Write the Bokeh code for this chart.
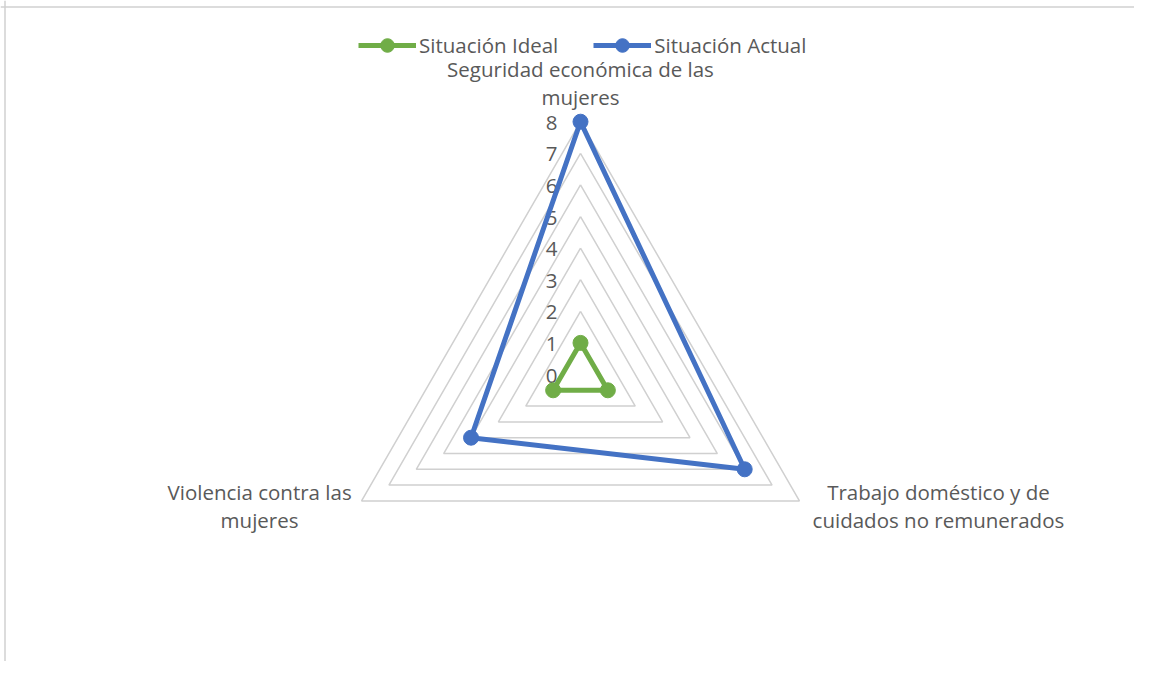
import math
from bokeh.plotting import figure
from bokeh.models import Range1d, Legend, LegendItem, Span
from bokeh.core.properties import value
from bokeh.embed import file_html
from bokeh.resources import INLINE

# ---- data ----
categories = ["Seguridad económica de las\nmujeres",
              "Trabajo doméstico y de\ncuidados no remunerados",
              "Violencia contra las\nmujeres"]
ideal = [1, 1, 1]
actual = [8, 6, 4]
tick_values = [0, 1, 2, 3, 4, 5, 6, 7, 8]
series_names = ["Situación Ideal", "Situación Actual"]

# ---- layout ----
W, H = 1134, 661
S = 31.6            # px per unit
CX, CY = 580, 374   # center in frame pixels
FONT = "Open Sans"
FS = "20.5px"
TXT = "#595959"
GRID = "#d0d0d0"
GREEN = "#70ad47"
BLUE = "#4472c4"

n = len(categories)
angles = [math.pi / 2 - 2 * math.pi * k / n for k in range(n)]

def polar(vals):
    xs = [v * math.cos(a) for v, a in zip(vals, angles)]
    ys = [v * math.sin(a) for v, a in zip(vals, angles)]
    return xs + xs[:1], ys + ys[:1]

p = figure(width=W, height=H, output_backend="svg", toolbar_location=None,
           x_range=Range1d(-CX / S, (W - CX) / S),
           y_range=Range1d(-(H - CY) / S, CY / S),
           min_border=0)
p.axis.visible = False
p.grid.visible = False
p.outline_line_color = None
p.background_fill_color = "white"

# chart border (top and left visible)
p.add_layout(Span(location=(-CX + 4.5) / S, dimension="height", line_color=GRID, line_width=1.5))
p.add_layout(Span(location=(CY - 6.5) / S, dimension="width", line_color=GRID, line_width=1.5))

# grid triangles
gx, gy = [], []
for r in tick_values[1:]:
    xs, ys = polar([r] * n)
    gx.append(xs)
    gy.append(ys)
p.multi_line(gx, gy, line_color=GRID, line_width=1.5)

# tick labels
p.text(x=[0] * len(tick_values), y=tick_values, text=[str(t) for t in tick_values],
       text_font=value(FONT), text_font_size=FS, text_color=TXT,
       text_align="right", text_baseline="middle", x_offset=-23, y_offset=1)

# series
renderers = []
for vals, col in [(ideal, GREEN), (actual, BLUE)]:
    xs, ys = polar(vals)
    l = p.line(xs, ys, line_color=col, line_width=5, line_join="round")
    s = p.scatter(xs[:-1], ys[:-1], size=15, fill_color=col, line_color=col)
    renderers.append([l, s])

# category labels (each line separately)
R = max(tick_values)
vx = [R * math.cos(a) for a in angles]
vy = [R * math.sin(a) for a in angles]
xoffs = [0, 139, -102]
yoffs = [-53, -8.5, -8.5]
LINE = 28
for i in range(n):
    for j, line in enumerate(categories[i].split("\n")):
        p.text(x=[vx[i]], y=[vy[i]], text=[line],
               text_font=value(FONT), text_font_size=FS, text_color=TXT,
               text_align="center", text_baseline="middle",
               x_offset=xoffs[i], y_offset=yoffs[i] + j * LINE)

legend = Legend(items=[LegendItem(label=series_names[i], renderers=renderers[i]) for i in range(2)],
                orientation="horizontal", location=(358, H - 62),
                glyph_width=58, glyph_height=34, label_height=34,
                label_standoff=3, spacing=35, padding=0, margin=0,
                border_line_color=None, background_fill_alpha=0,
                label_text_font=FONT, label_text_font_size=FS,
                label_text_color=TXT)
p.add_layout(legend, "center")

open("out.html", "w").write(file_html(p, INLINE))
